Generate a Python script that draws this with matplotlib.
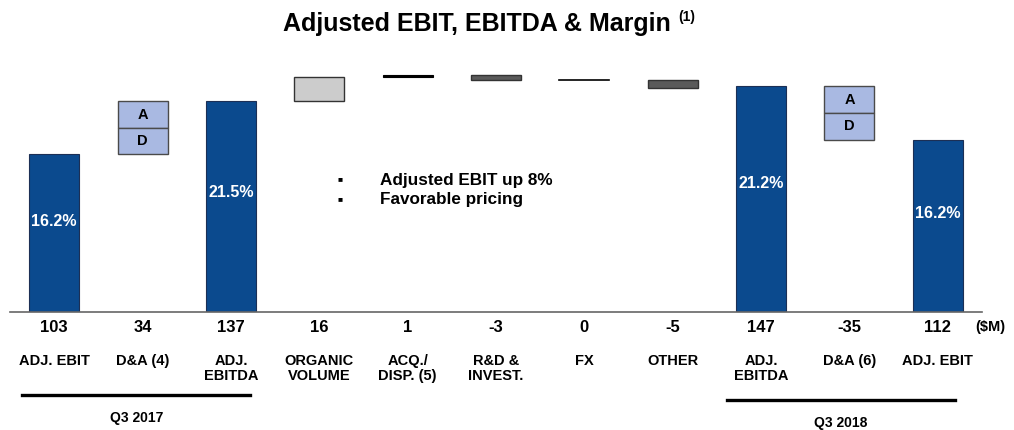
import matplotlib.pyplot as plt

plt.rcParams['font.family'] = ['Liberation Sans', 'DejaVu Sans']

# Data ($M)
categories = ["ADJ. EBIT", "D&A (4)", "ADJ.\nEBITDA", "ORGANIC\nVOLUME", "ACQ./\nDISP. (5)",
              "R&D &\nINVEST.", "FX", "OTHER", "ADJ.\nEBITDA", "D&A (6)", "ADJ. EBIT"]
values = [103, 34, 137, 16, 1, -3, 0, -5, 147, -35, 112]
kinds = ["total", "da", "total", "step", "step", "step", "step", "step", "total", "da", "total"]
margins = {0: "16.2%", 2: "21.5%", 8: "21.2%", 10: "16.2%"}
value_labels = ["103", "34", "137", "16", "1", "-3", "0", "-5", "147", "-35", "112"]

BLUE = "#0b4a8e"
LIGHT_BLUE = "#a9b9e2"
LIGHT_GRAY = "#cccccc"
DARK_GRAY = "#5a5a5a"

fig = plt.figure(figsize=(10.14, 4.30), dpi=100)
ax = fig.add_axes([10 / 1014, 1 - 312 / 430, 972 / 1014, 252 / 430])
ax.set_xlim(-0.5, 10.5)
ax.set_ylim(0, 164)
ax.axis("off")

w = 0.565
running = 0
for i, (v, k) in enumerate(zip(values, kinds)):
    if k == "total":
        ax.bar(i, v, width=w, color=BLUE, edgecolor="#1c2f55", linewidth=0.8)
        running = v
        if i in margins:
            ax.text(i, v * 0.57, margins[i], color="white", ha="center", va="center",
                    fontsize=11.5, fontweight="bold")
    elif k == "da":
        lo, hi = sorted([running, running + v])
        mid = (lo + hi) / 2
        ax.bar(i, hi - mid, bottom=mid, width=w, color=LIGHT_BLUE, edgecolor="#4a4a4a", linewidth=1)
        ax.bar(i, mid - lo, bottom=lo, width=w, color=LIGHT_BLUE, edgecolor="#4a4a4a", linewidth=1)
        ax.text(i, (mid + hi) / 2, "A", ha="center", va="center", fontsize=10.5, fontweight="bold")
        ax.text(i, (lo + mid) / 2, "D", ha="center", va="center", fontsize=10.5, fontweight="bold")
        running += v
    else:
        lo, hi = sorted([running, running + v])
        if v == 0:
            ax.plot([i - w / 2, i + w / 2], [running, running], color="black", lw=1.2)
        elif abs(v) == 1:
            ax.bar(i, hi - lo, bottom=lo, width=w, color="black", edgecolor="black", linewidth=0.8)
        else:
            c = LIGHT_GRAY if v > 0 else DARK_GRAY
            ax.bar(i, hi - lo, bottom=lo, width=w, color=c, edgecolor="#333333", linewidth=1)
        running += v

# baseline
ax.plot([-0.5, 10.5], [0, 0], color="#666666", lw=1.2, clip_on=False)

# value row and category labels
for i, (lab, cat) in enumerate(zip(value_labels, categories)):
    ax.annotate(lab, (i, 0), xytext=(0, -11.5), textcoords="offset points", ha="center",
                va="center", fontsize=12, fontweight="bold")
    ax.annotate(cat, (i, 0), xytext=(0, -30.5), textcoords="offset points", ha="center",
                va="top", fontsize=10.5, fontweight="bold", linespacing=1.05)
fig.text(975 / 1014, 1 - 327 / 430, "($M)", ha="left", va="center", fontsize=10.5, fontweight="bold")

# period brackets
for x0, x1, lbl, dy in [(-0.36, 2.22, "Q3 2017", 0), (7.61, 10.19, "Q3 2018", 5)]:
    y = 1 - (395 + dy) / 430
    fig.add_artist(plt.Line2D([10 / 1014 + (x0 + 0.5) * 972 / 11 / 1014,
                               10 / 1014 + (x1 + 0.5) * 972 / 11 / 1014], [y, y],
                              color="black", lw=2.4))
    fig.text(10 / 1014 + ((x0 + x1) / 2 + 0.5) * 972 / 11 / 1014, 1 - (418 + dy) / 430, lbl,
             ha="center", va="center", fontsize=10, fontweight="bold")

# commentary
for yy, txt in [(180, "Adjusted EBIT up 8%"), (200, "Favorable pricing")]:
    fig.text(338 / 1014, 1 - yy / 430, "\u25a0", fontsize=6, va="center", ha="left")
    fig.text(380 / 1014, 1 - yy / 430, txt, fontsize=12.3, fontweight="bold", va="center")

# title
fig.text(283 / 1014, 1 - 24 / 430, "Adjusted EBIT, EBITDA & Margin", ha="left", va="center",
         fontsize=18, fontweight="bold")
fig.text(678 / 1014, 1 - 17 / 430, "(1)", ha="left", va="center", fontsize=10, fontweight="bold")

fig.savefig("out.png", dpi=100)
